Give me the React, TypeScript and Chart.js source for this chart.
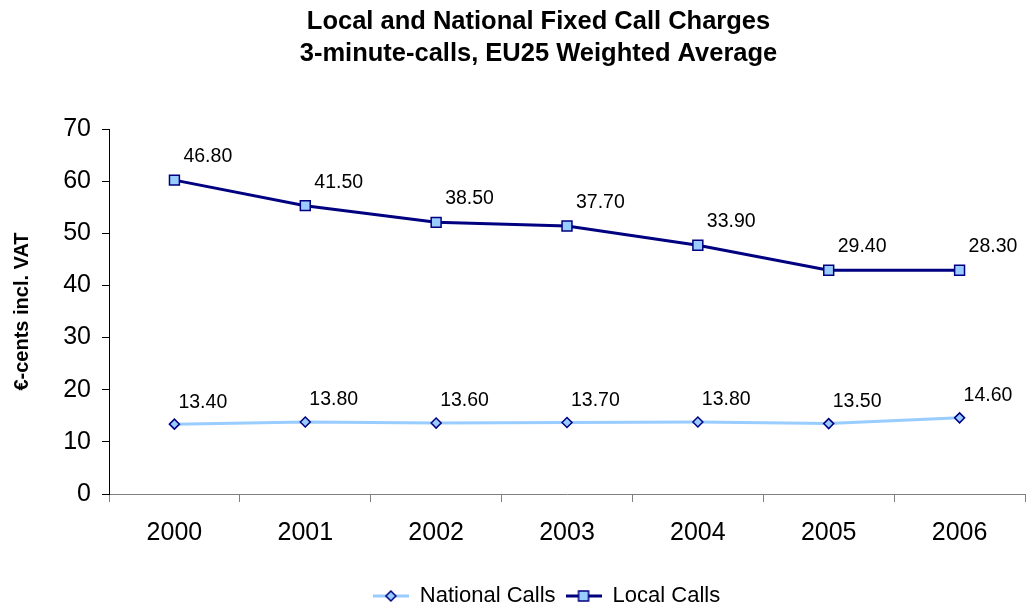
import React, { useEffect, useRef } from "react";
import { Chart, registerables } from "chart.js";

Chart.register(...registerables);

// ---- data ----
const categories = ["2000", "2001", "2002", "2003", "2004", "2005", "2006"];
const nationalCalls = [13.4, 13.8, 13.6, 13.7, 13.8, 13.5, 14.6];
const localCalls = [46.8, 41.5, 38.5, 37.7, 33.9, 29.4, 28.3];
const seriesNames = ["National Calls", "Local Calls"];
const titleLines = ["Local and National Fixed Call Charges", "3-minute-calls, EU25 Weighted Average"];
const yAxisTitle = "€-cents incl. VAT";
const yMin = 0;
const yMax = 70;
const yStep = 10;

// ---- styles ----
const FONT = "'Liberation Sans', Arial, Helvetica, sans-serif";
const NAVY = "#000080";
const LIGHT = "#99CCFF";
const LABEL_OFFSETS: [number, number][] = [
  [4, -22],
  [9, -23.5],
];

function makeLegendImage(lineColor: string, kind: "diamond" | "square"): HTMLCanvasElement {
  const c = document.createElement("canvas");
  c.width = 36;
  c.height = 14;
  const g = c.getContext("2d")!;
  g.strokeStyle = lineColor;
  g.lineWidth = 3;
  g.beginPath();
  g.moveTo(0, 7);
  g.lineTo(36, 7);
  g.stroke();
  g.fillStyle = LIGHT;
  g.strokeStyle = NAVY;
  g.lineWidth = 1.5;
  g.beginPath();
  if (kind === "diamond") {
    g.moveTo(18 - 5, 7);
    g.lineTo(18, 2);
    g.lineTo(18 + 5, 7);
    g.lineTo(18, 12);
    g.closePath();
  } else {
    g.rect(18 - 5, 2, 10, 10);
  }
  g.fill();
  g.stroke();
  return c;
}

const valueLabelPlugin = {
  id: "valueLabels",
  afterDatasetsDraw(chart: any) {
    const ctx = chart.ctx;
    ctx.save();
    ctx.font = `19.5px ${FONT}`;
    ctx.fillStyle = "#000";
    ctx.textAlign = "left";
    ctx.textBaseline = "middle";
    chart.data.datasets.forEach((ds: any, di: number) => {
      const meta = chart.getDatasetMeta(di);
      const [dx, dy] = LABEL_OFFSETS[di];
      meta.data.forEach((pt: any, i: number) => {
        ctx.fillText(Number(ds.data[i]).toFixed(2), pt.x + dx, pt.y + dy);
      });
    });
    ctx.restore();
  },
};

const shiftPlugin = {
  id: "shiftBlocks",
  afterLayout(chart: any) {
    const t = chart.titleBlock;
    if (t) {
      t.left += 26;
      t.right += 26;
    }
    const l = chart.legend;
    if (l) {
      l.left += 34;
      l.right += 34;
      l.top += 10;
      l.bottom += 10;
    }
  },
};

export default function App() {
  const ref = useRef<HTMLCanvasElement | null>(null);

  useEffect(() => {
    if (!ref.current) return;
    const legendImgs = [makeLegendImage(LIGHT, "diamond"), makeLegendImage(NAVY, "square")];
    const chart = new Chart(ref.current, {
      type: "line",
      data: {
        labels: categories,
        datasets: [
          {
            label: seriesNames[0],
            data: nationalCalls,
            borderColor: LIGHT,
            backgroundColor: LIGHT,
            borderWidth: 3,
            pointStyle: "rectRot",
            pointRadius: 5,
            pointBackgroundColor: LIGHT,
            pointBorderColor: NAVY,
            pointBorderWidth: 1.5,
            tension: 0,
            fill: false,
            clip: false,
          },
          {
            label: seriesNames[1],
            data: localCalls,
            borderColor: NAVY,
            backgroundColor: LIGHT,
            borderWidth: 3,
            pointStyle: "rect",
            pointRadius: 7,
            pointBackgroundColor: LIGHT,
            pointBorderColor: NAVY,
            pointBorderWidth: 1.5,
            tension: 0,
            fill: false,
            clip: false,
          },
        ],
      },
      options: {
        responsive: false,
        animation: false,
        devicePixelRatio: 1,
        events: [],
        layout: { autoPadding: false, padding: { left: 0, right: 1, top: 0, bottom: 0 } },
        plugins: {
          title: {
            display: true,
            text: titleLines,
            color: "#000",
            font: { family: FONT, size: 25.5, weight: "bold", lineHeight: 32 / 25.5 },
            padding: { top: 6, bottom: 59 },
          },
          legend: {
            display: true,
            position: "bottom",
            labels: {
              color: "#000",
              font: { family: FONT, size: 22 },
              padding: 10,
              usePointStyle: true,
              pointStyleWidth: 36,
              generateLabels: (c: any) => {
                const items = (Chart.defaults.plugins.legend.labels as any).generateLabels(c);
                items.forEach((it: any, i: number) => {
                  it.pointStyle = legendImgs[i];
                });
                return items;
              },
            },
          },
          tooltip: { enabled: false },
        },
        scales: {
          x: {
            type: "category",
            offset: true,
            grid: {
              offset: true,
              drawOnChartArea: false,
              drawTicks: true,
              tickLength: 8,
              color: "#808080",
            },
            border: { display: true, color: "#808080", width: 1 },
            ticks: {
              color: "#000",
              font: { family: FONT, size: 25 },
              padding: 16,
              maxRotation: 0,
            },
            afterFit: (s: any) => {
              s.height = 71;
              s.paddingLeft = 0;
              s.paddingRight = 0;
            },
          },
          y: {
            stacked: true,
            min: yMin,
            max: yMax,
            grid: {
              drawOnChartArea: false,
              drawTicks: true,
              tickLength: 7,
              color: "#000",
            },
            border: { display: true, color: "#000", width: 1 },
            ticks: {
              stepSize: yStep,
              color: "#000",
              font: { family: FONT, size: 25 },
              padding: 11,
            },
            title: {
              display: true,
              text: yAxisTitle,
              color: "#000",
              font: { family: FONT, size: 20, weight: "bold" },
              padding: { top: 10, bottom: 0 },
            },
            afterFit: (s: any) => {
              s.width = 109;
            },
          },
        },
      },
      plugins: [valueLabelPlugin, shiftPlugin],
    } as any);
    return () => chart.destroy();
  }, []);

  return (
    <div style={{ position: "absolute", left: 0, top: 0, width: 1026, height: 607, background: "#fff" }}>
      <canvas ref={ref} width={1026} height={607} style={{ display: "block" }} />
    </div>
  );
}
